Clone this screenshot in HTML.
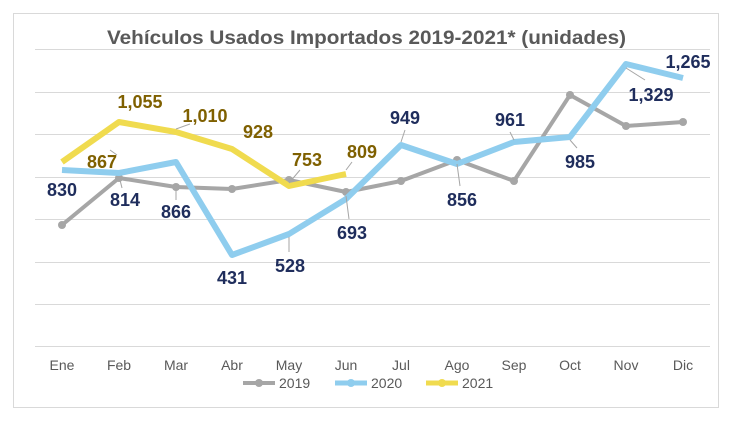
<!DOCTYPE html>
<html><head><meta charset="utf-8"><style>
body{margin:0;background:#fff;}
svg{display:block;font-family:"Liberation Sans",sans-serif;}
</style></head><body>
<svg width="734" height="425" viewBox="0 0 734 425">
<rect x="0" y="0" width="734" height="425" fill="#fff"/>
<rect x="13.5" y="13.5" width="705" height="394" fill="#fff" stroke="#d9d9d9"/>
<text x="107" y="44" textLength="519" lengthAdjust="spacingAndGlyphs" font-size="19" font-weight="bold" fill="#595959">Vehículos Usados Importados 2019-2021* (unidades)</text>
<g stroke="#d9d9d9" stroke-width="1">
<line x1="35" x2="710" y1="49.5" y2="49.5"/><line x1="35" x2="710" y1="92.5" y2="92.5"/>
<line x1="35" x2="710" y1="134.5" y2="134.5"/><line x1="35" x2="710" y1="177.5" y2="177.5"/>
<line x1="35" x2="710" y1="219.5" y2="219.5"/><line x1="35" x2="710" y1="262.5" y2="262.5"/>
<line x1="35" x2="710" y1="304.5" y2="304.5"/><line x1="35" x2="710" y1="346.5" y2="346.5"/>
</g>
<g font-size="14" fill="#595959" text-anchor="middle">
<text x="62" y="370">Ene</text><text x="119" y="370">Feb</text><text x="176" y="370">Mar</text><text x="232" y="370">Abr</text><text x="289" y="370">May</text><text x="346" y="370">Jun</text><text x="401" y="370">Jul</text><text x="457" y="370">Ago</text><text x="514" y="370">Sep</text><text x="570" y="370">Oct</text><text x="626" y="370">Nov</text><text x="683" y="370">Dic</text>
</g>
<polyline fill="none" stroke="#a6a6a6" stroke-width="4" stroke-linejoin="round" points="62,225 119,178 176,187 232,189 289,180 346,192 401,181 457,160 514,181 570,95 626,126 683,122"/>
<g fill="#a6a6a6"><circle cx="62" cy="225" r="4"/><circle cx="119" cy="178" r="4"/><circle cx="176" cy="187" r="4"/><circle cx="232" cy="189" r="4"/><circle cx="289" cy="180" r="4"/><circle cx="346" cy="192" r="4"/><circle cx="401" cy="181" r="4"/><circle cx="457" cy="160" r="4"/><circle cx="514" cy="181" r="4"/><circle cx="570" cy="95" r="4"/><circle cx="626" cy="126" r="4"/><circle cx="683" cy="122" r="4"/></g>
<polyline fill="none" stroke="#8fcdee" stroke-width="6" stroke-linejoin="round" points="62,170 119,173 176,162 232,255 289,234 346,199 401,145 457,164 514,142 570,137 626,64 683,78"/>
<polyline fill="none" stroke="#f0db4f" stroke-width="6" stroke-linejoin="round" points="62,162 119,122 176,132 232,149 289,186 346,174"/>
<g stroke="#a6a6a6" stroke-width="1">
<line x1="119" y1="176" x2="122" y2="188"/><line x1="176" y1="190" x2="176" y2="200"/><line x1="289" y1="237" x2="289" y2="252"/><line x1="346" y1="196" x2="349" y2="219"/><line x1="401" y1="142" x2="405" y2="130"/><line x1="457" y1="164" x2="460" y2="186"/><line x1="514" y1="140" x2="510" y2="132"/><line x1="570" y1="140" x2="577" y2="148"/><line x1="626" y1="68" x2="645" y2="80"/><line x1="110" y1="150" x2="117" y2="155"/><line x1="176" y1="129" x2="190" y2="124"/><line x1="289" y1="183" x2="300" y2="170"/><line x1="346" y1="170" x2="352" y2="162"/>
</g>
<g font-size="18" font-weight="bold" fill="#1f2d5c" text-anchor="middle">
<text x="62" y="196">830</text><text x="125" y="206">814</text><text x="176" y="218">866</text><text x="232" y="284">431</text><text x="290" y="272">528</text><text x="352" y="239">693</text><text x="405" y="124">949</text><text x="462" y="206">856</text><text x="510" y="126">961</text><text x="580" y="168">985</text><text x="651" y="101">1,329</text><text x="688" y="68">1,265</text>
</g>
<g font-size="18" font-weight="bold" fill="#7f6000" text-anchor="middle">
<text x="102" y="168">867</text><text x="140" y="108">1,055</text><text x="205" y="122">1,010</text><text x="258" y="138">928</text><text x="307" y="166">753</text><text x="362" y="158">809</text>
</g>
<g font-size="14" fill="#595959">
<line x1="243" x2="275" y1="383" y2="383" stroke="#a6a6a6" stroke-width="4"/><circle cx="259" cy="383" r="4" fill="#a6a6a6"/><text x="279" y="388">2019</text>
<line x1="335" x2="367" y1="383" y2="383" stroke="#8fcdee" stroke-width="5"/><circle cx="351" cy="383" r="4" fill="#8fcdee"/><text x="371" y="388">2020</text>
<line x1="426" x2="458" y1="383" y2="383" stroke="#f0db4f" stroke-width="5"/><circle cx="442" cy="383" r="4" fill="#f0db4f"/><text x="462" y="388">2021</text>
</g>
</svg>
</body></html>
